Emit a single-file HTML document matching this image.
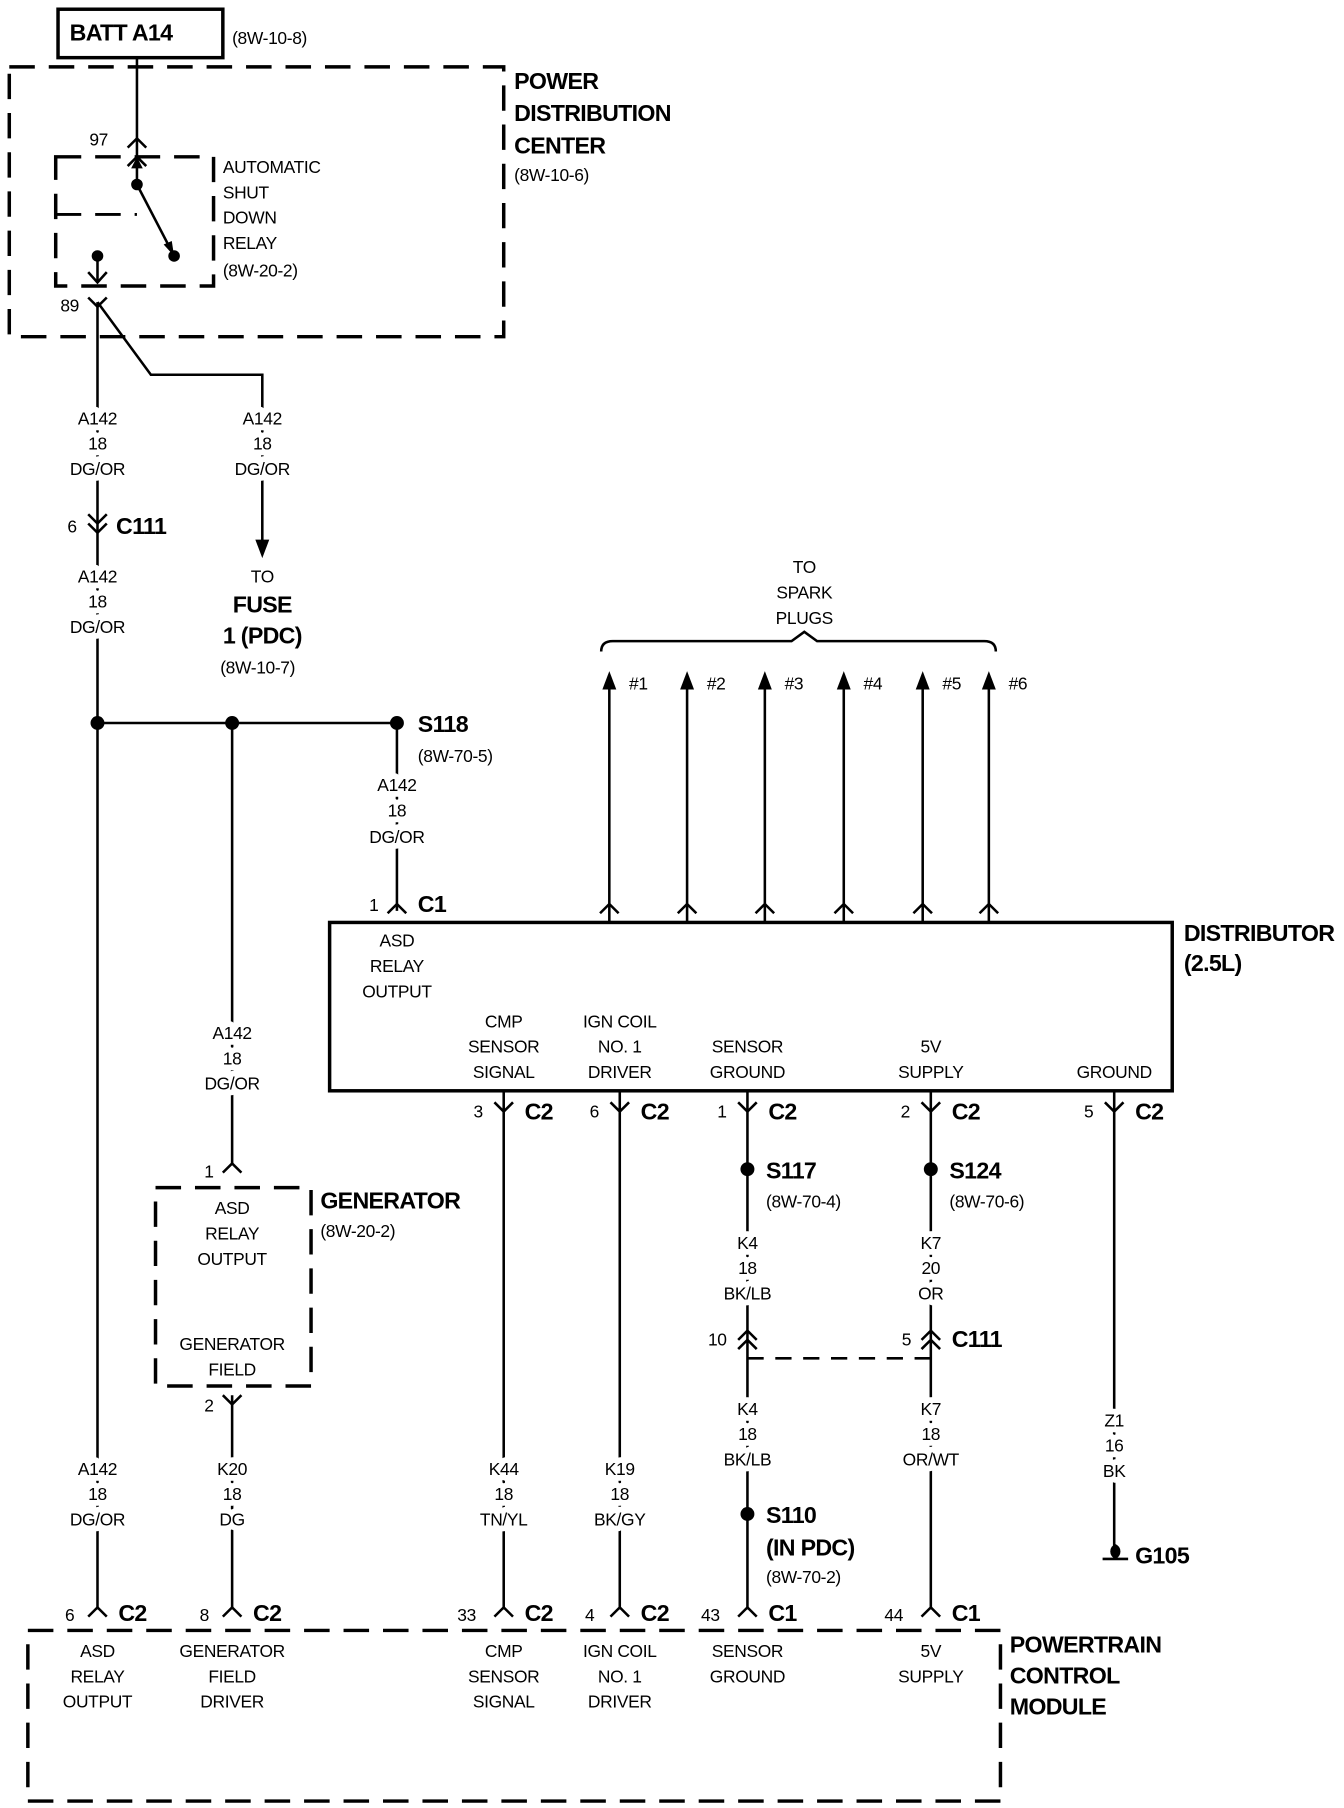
<!DOCTYPE html>
<html><head><meta charset="utf-8"><style>
html,body{margin:0;padding:0;background:#fff;}
svg{display:block;}
text{font-family:"Liberation Sans",Arial,sans-serif;fill:#000;stroke:#fff;stroke-width:10px;paint-order:stroke;stroke-linejoin:round;}
.t{font-size:15px;text-anchor:middle;letter-spacing:-0.3px;}
.l{font-size:15px;letter-spacing:-0.3px;}
.b{font-size:20px;font-weight:bold;letter-spacing:-0.6px;}
.bm{font-size:20px;font-weight:bold;text-anchor:middle;letter-spacing:-0.6px;}
</style></head><body>
<svg width="1344" height="1808" viewBox="0 0 1158 1568" preserveAspectRatio="none" xmlns="http://www.w3.org/2000/svg">
<g stroke="#000" stroke-width="2.2" fill="none">
<rect x="50" y="8" width="142" height="42" stroke-width="3"/>
<rect x="8" y="58" width="426" height="234" stroke-width="3" stroke-dasharray="22,12"/>
<rect x="48" y="136" width="136" height="112" stroke-width="3" stroke-dasharray="22,12"/>
<path d="M48 186 H118" stroke-dasharray="22,12" stroke-width="2.5"/>
<path d="M118 50 V160"/>
<path d="M110 128 L118 120 L126 128"/>
<path d="M110 144 L118 136 L126 144"/>
<path d="M118 160 L150 222"/>
<path d="M84 222 V245"/>
<path d="M76 236 L84 245 L92 236"/>
<path d="M76 258 L84 266 L92 258"/>
<path d="M84 262 L130 325 H226 V470"/>
<path d="M84 262 V1395"/>
<path d="M76 446 L84 454 L92 446 M76 454 L84 462 L92 454"/>
<path d="M84 627 H342"/>
<path d="M200 627 V1010"/>
<path d="M342 627 V790"/>
<path d="M334 792 L342 784 L350 792"/>
<path d="M192 1017 L200 1009 L208 1017"/>
<rect x="134" y="1030" width="134" height="172" stroke-width="3" stroke-dasharray="22,12"/>
<path d="M200 1210 V1395"/>
<path d="M192 1210 L200 1218 L208 1210"/>
<rect x="284" y="800" width="726" height="146" stroke-width="3"/>
<path d="M518 565 Q518 556 528 556 H682 L693 548 L704 556 H848 Q858 556 858 565"/>
<path d="M525 590 V800 M592 590 V800 M659 590 V800 M727 590 V800 M795 590 V800 M852 590 V800"/>
<path d="M517 792 L525 784 L533 792 M584 792 L592 784 L600 792 M651 792 L659 784 L667 792 M719 792 L727 784 L735 792 M787 792 L795 784 L803 792 M844 792 L852 784 L860 792"/>
<path d="M434 946 V1395 M534 946 V1395 M644 946 V1395 M802 946 V1395 M960 946 V1345"/>
<path d="M426 956 L434 964 L442 956 M526 956 L534 964 L542 956 M636 956 L644 964 L652 956 M794 956 L802 964 L810 956 M952 956 L960 964 L968 956"/>
<path d="M636 1162 L644 1154 L652 1162 M636 1170 L644 1162 L652 1170 M794 1162 L802 1154 L810 1162 M794 1170 L802 1162 L810 1170"/>
<path d="M644 1178 H802" stroke-dasharray="14,10"/>
<path d="M950 1352 H972"/>
<path d="M76 1402 L84 1394 L92 1402 M192 1402 L200 1394 L208 1402 M426 1402 L434 1394 L442 1402 M526 1402 L534 1394 L542 1402 M636 1402 L644 1394 L652 1402 M794 1402 L802 1394 L810 1402"/>
<rect x="24" y="1414" width="838" height="148" stroke-width="3" stroke-dasharray="22,12"/>
</g>
<g fill="#000">
<circle cx="118" cy="160" r="5"/><circle cx="150" cy="222" r="5"/><circle cx="84" cy="222" r="5"/>
<circle cx="84" cy="627" r="6"/><circle cx="200" cy="627" r="6"/><circle cx="342" cy="627" r="6"/>
<circle cx="644" cy="1014" r="6"/><circle cx="802" cy="1014" r="6"/><circle cx="644" cy="1313" r="6"/>
<path d="M961 1352 a7 7 0 0 1 0 -13 a7 7 0 0 1 0 13z"/>
<polygon points="226,484 220,468 232,468"/>
<polygon points="525,582 519,598 531,598"/><polygon points="592,582 586,598 598,598"/><polygon points="659,582 653,598 665,598"/><polygon points="727,582 721,598 733,598"/><polygon points="795,582 789,598 801,598"/><polygon points="852,582 846,598 858,598"/>
<polygon points="118,136 113,146 123,146"/>
<polygon points="150,222 141,212 148,209"/>
</g>
<text class="b" x="60" y="35">BATT A14</text>
<text class="l" x="200" y="38">(8W-10-8)</text>
<text class="b" x="443" y="77">POWER</text>
<text class="b" x="443" y="105">DISTRIBUTION</text>
<text class="b" x="443" y="133">CENTER</text>
<text class="l" x="443" y="157">(8W-10-6)</text>
<text class="l" x="77" y="126">97</text>
<text class="l" x="52" y="270">89</text>
<text class="l" x="192" y="150">AUTOMATIC</text>
<text class="l" x="192" y="172">SHUT</text>
<text class="l" x="192" y="194">DOWN</text>
<text class="l" x="192" y="216">RELAY</text>
<text class="l" x="192" y="240">(8W-20-2)</text>
<text class="t" x="84" y="368">A142</text><text class="t" x="84" y="390">18</text><text class="t" x="84" y="412">DG/OR</text>
<text class="t" x="226" y="368">A142</text><text class="t" x="226" y="390">18</text><text class="t" x="226" y="412">DG/OR</text>
<text class="l" x="58" y="462">6</text><text class="b" x="100" y="463">C111</text>
<text class="t" x="84" y="505">A142</text><text class="t" x="84" y="527">18</text><text class="t" x="84" y="549">DG/OR</text>
<text class="t" x="226" y="505">TO</text>
<text class="bm" x="226" y="531">FUSE</text>
<text class="bm" x="226" y="558">1 (PDC)</text>
<text class="t" x="222" y="584">(8W-10-7)</text>
<text class="t" x="693" y="497">TO</text><text class="t" x="693" y="519">SPARK</text><text class="t" x="693" y="541">PLUGS</text>
<text class="l" x="542" y="598">#1</text><text class="l" x="609" y="598">#2</text><text class="l" x="676" y="598">#3</text><text class="l" x="744" y="598">#4</text><text class="l" x="812" y="598">#5</text><text class="l" x="869" y="598">#6</text>
<text class="b" x="360" y="635">S118</text>
<text class="l" x="360" y="661">(8W-70-5)</text>
<text class="t" x="342" y="686">A142</text><text class="t" x="342" y="708">18</text><text class="t" x="342" y="731">DG/OR</text>
<text class="l" x="318" y="790">1</text><text class="b" x="360" y="791">C1</text>
<text class="b" x="1020" y="816">DISTRIBUTOR</text>
<text class="b" x="1020" y="842">(2.5L)</text>
<text class="t" x="342" y="821">ASD</text><text class="t" x="342" y="843">RELAY</text><text class="t" x="342" y="865">OUTPUT</text>
<text class="t" x="434" y="891">CMP</text><text class="t" x="434" y="913">SENSOR</text><text class="t" x="434" y="935">SIGNAL</text>
<text class="t" x="534" y="891">IGN COIL</text><text class="t" x="534" y="913">NO. 1</text><text class="t" x="534" y="935">DRIVER</text>
<text class="t" x="644" y="913">SENSOR</text><text class="t" x="644" y="935">GROUND</text>
<text class="t" x="802" y="913">5V</text><text class="t" x="802" y="935">SUPPLY</text>
<text class="t" x="960" y="935">GROUND</text>
<text class="l" x="408" y="969">3</text><text class="b" x="452" y="971">C2</text>
<text class="l" x="508" y="969">6</text><text class="b" x="552" y="971">C2</text>
<text class="l" x="618" y="969">1</text><text class="b" x="662" y="971">C2</text>
<text class="l" x="776" y="969">2</text><text class="b" x="820" y="971">C2</text>
<text class="l" x="934" y="969">5</text><text class="b" x="978" y="971">C2</text>
<text class="t" x="200" y="901">A142</text><text class="t" x="200" y="923">18</text><text class="t" x="200" y="945">DG/OR</text>
<text class="l" x="176" y="1021">1</text>
<text class="b" x="276" y="1048">GENERATOR</text>
<text class="l" x="276" y="1073">(8W-20-2)</text>
<text class="t" x="200" y="1053">ASD</text><text class="t" x="200" y="1075">RELAY</text><text class="t" x="200" y="1097">OUTPUT</text>
<text class="t" x="200" y="1171">GENERATOR</text><text class="t" x="200" y="1193">FIELD</text>
<text class="l" x="176" y="1224">2</text>
<text class="b" x="660" y="1022">S117</text><text class="l" x="660" y="1047">(8W-70-4)</text>
<text class="b" x="818" y="1022">S124</text><text class="l" x="818" y="1047">(8W-70-6)</text>
<text class="t" x="644" y="1083">K4</text><text class="t" x="644" y="1105">18</text><text class="t" x="644" y="1127">BK/LB</text>
<text class="t" x="802" y="1083">K7</text><text class="t" x="802" y="1105">20</text><text class="t" x="802" y="1127">OR</text>
<text class="l" x="610" y="1167">10</text>
<text class="l" x="777" y="1167">5</text><text class="b" x="820" y="1168">C111</text>
<text class="t" x="644" y="1227">K4</text><text class="t" x="644" y="1249">18</text><text class="t" x="644" y="1271">BK/LB</text>
<text class="t" x="802" y="1227">K7</text><text class="t" x="802" y="1249">18</text><text class="t" x="802" y="1271">OR/WT</text>
<text class="t" x="960" y="1237">Z1</text><text class="t" x="960" y="1259">16</text><text class="t" x="960" y="1281">BK</text>
<text class="b" x="660" y="1321">S110</text>
<text class="b" x="660" y="1349">(IN PDC)</text>
<text class="l" x="660" y="1373">(8W-70-2)</text>
<text class="b" x="978" y="1356">G105</text>
<text class="t" x="84" y="1279">A142</text><text class="t" x="84" y="1301">18</text><text class="t" x="84" y="1323">DG/OR</text>
<text class="t" x="200" y="1279">K20</text><text class="t" x="200" y="1301">18</text><text class="t" x="200" y="1323">DG</text>
<text class="t" x="434" y="1279">K44</text><text class="t" x="434" y="1301">18</text><text class="t" x="434" y="1323">TN/YL</text>
<text class="t" x="534" y="1279">K19</text><text class="t" x="534" y="1301">18</text><text class="t" x="534" y="1323">BK/GY</text>
<text class="l" x="56" y="1406">6</text><text class="b" x="102" y="1406">C2</text>
<text class="l" x="172" y="1406">8</text><text class="b" x="218" y="1406">C2</text>
<text class="l" x="394" y="1406">33</text><text class="b" x="452" y="1406">C2</text>
<text class="l" x="504" y="1406">4</text><text class="b" x="552" y="1406">C2</text>
<text class="l" x="604" y="1406">43</text><text class="b" x="662" y="1406">C1</text>
<text class="l" x="762" y="1406">44</text><text class="b" x="820" y="1406">C1</text>
<text class="t" x="84" y="1437">ASD</text><text class="t" x="84" y="1459">RELAY</text><text class="t" x="84" y="1481">OUTPUT</text>
<text class="t" x="200" y="1437">GENERATOR</text><text class="t" x="200" y="1459">FIELD</text><text class="t" x="200" y="1481">DRIVER</text>
<text class="t" x="434" y="1437">CMP</text><text class="t" x="434" y="1459">SENSOR</text><text class="t" x="434" y="1481">SIGNAL</text>
<text class="t" x="534" y="1437">IGN COIL</text><text class="t" x="534" y="1459">NO. 1</text><text class="t" x="534" y="1481">DRIVER</text>
<text class="t" x="644" y="1437">SENSOR</text><text class="t" x="644" y="1459">GROUND</text>
<text class="t" x="802" y="1437">5V</text><text class="t" x="802" y="1459">SUPPLY</text>
<text class="b" x="870" y="1433">POWERTRAIN</text>
<text class="b" x="870" y="1460">CONTROL</text>
<text class="b" x="870" y="1487">MODULE</text>
</svg>
</body></html>
